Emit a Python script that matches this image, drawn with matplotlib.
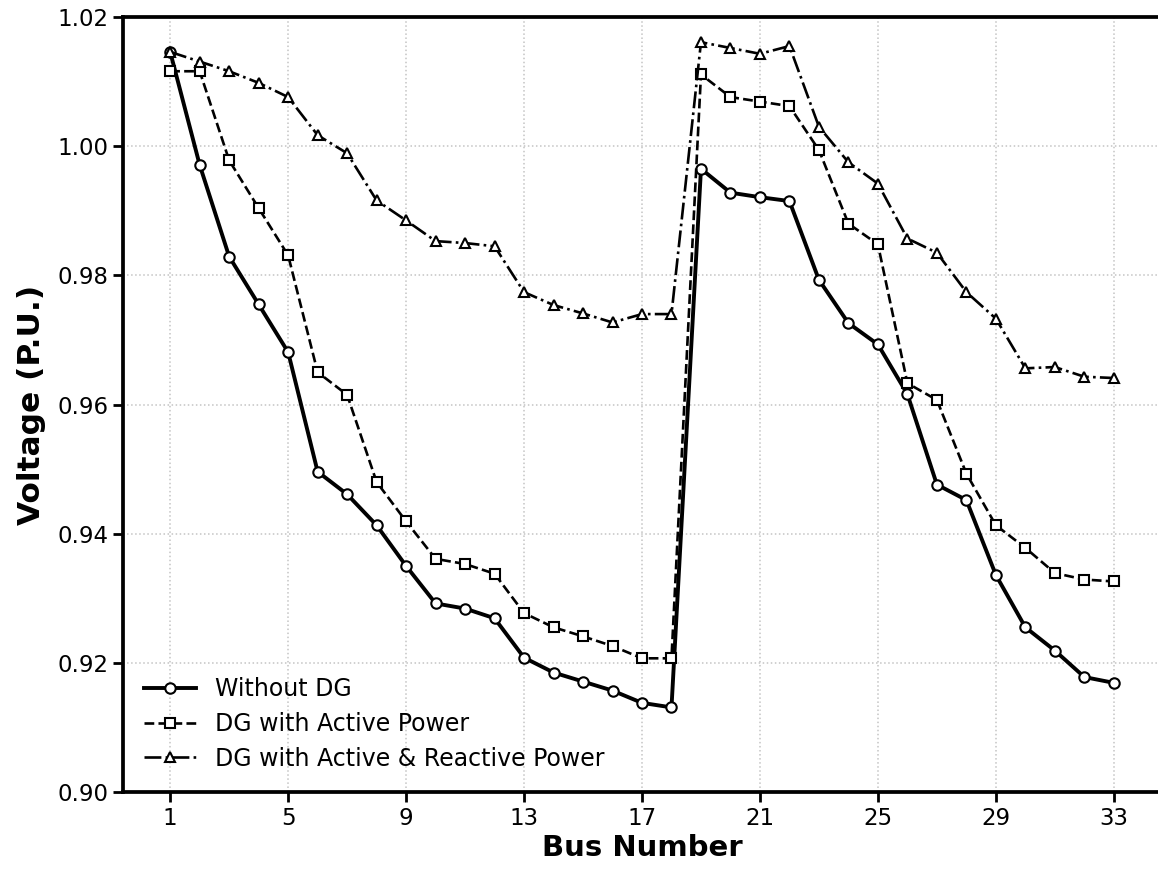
"""Voltage profile of the 33-bus feeder with and without DG."""

import matplotlib
matplotlib.use("Agg")
import matplotlib.pyplot as plt

buses = list(range(1, 34))

without_dg = [
    1.0146, 0.9971, 0.9829, 0.9755, 0.9681, 0.9496, 0.9461, 0.9413, 0.9350,
    0.9292, 0.9284, 0.9269, 0.9208, 0.9185, 0.9171, 0.9157, 0.9138, 0.9131,
    0.9965, 0.9928, 0.9921, 0.9915, 0.9793, 0.9726, 0.9693, 0.9616, 0.9476,
    0.9452, 0.9336, 0.9255, 0.9219, 0.9178, 0.9169,
]

dg_active = [
    1.0116, 1.0116, 0.9978, 0.9904, 0.9831, 0.9650, 0.9615, 0.9480, 0.9419,
    0.9361, 0.9353, 0.9338, 0.9277, 0.9255, 0.9241, 0.9226, 0.9207, 0.9207,
    1.0111, 1.0076, 1.0069, 1.0062, 0.9994, 0.9880, 0.9848, 0.9633, 0.9607,
    0.9493, 0.9413, 0.9378, 0.9339, 0.9329, 0.9326,
]

dg_active_reactive = [
    1.0146, 1.0131, 1.0116, 1.0098, 1.0076, 1.0017, 0.9989, 0.9916, 0.9885,
    0.9853, 0.9850, 0.9845, 0.9774, 0.9754, 0.9741, 0.9727, 0.9740, 0.9740,
    1.0161, 1.0152, 1.0143, 1.0155, 1.0030, 0.9975, 0.9942, 0.9857, 0.9835,
    0.9774, 0.9733, 0.9656, 0.9658, 0.9643, 0.9641,
]

xticks = [1, 5, 9, 13, 17, 21, 25, 29, 33]
yticks = [0.90, 0.92, 0.94, 0.96, 0.98, 1.00, 1.02]

fig = plt.figure(figsize=(11.58, 8.77), dpi=100)
ax = fig.add_axes([123 / 1158, 1 - 792 / 877, 1038 / 1158, 775 / 877])

marker_style = dict(markersize=7.5, markerfacecolor="white", markeredgecolor="black",
                    markeredgewidth=1.5, color="black")
ax.plot(buses, without_dg, "-", marker="o", linewidth=2.8, label="Without DG", **marker_style)
ax.plot(buses, dg_active, "--", marker="s", linewidth=1.9, label="DG with Active Power",
        **marker_style)
ax.plot(buses, dg_active_reactive, "-.", marker="^", linewidth=1.9,
        label="DG with Active & Reactive Power", **marker_style)

ax.set_xlim(-0.6, 34.6)
ax.set_ylim(0.90, 1.02)
ax.set_xticks(xticks)
ax.set_yticks(yticks)
ax.set_yticklabels([f"{v:.2f}" for v in yticks])
ax.tick_params(labelsize=16.5, width=2, length=7)
ax.grid(True, linestyle=":", color="#c4c4c4", linewidth=1.1)

for spine in ax.spines.values():
    spine.set_linewidth(2.7)

ax.set_xlabel("Bus Number", fontsize=21, fontweight="bold", labelpad=3)
ax.set_ylabel("Voltage (P.U.)", fontsize=22.5, fontweight="bold", labelpad=8)

ax.legend(loc="lower left", frameon=False, fontsize=17, handlelength=2.2,
          borderaxespad=0.5, labelspacing=0.45, handletextpad=0.8)

fig.savefig("out.png", dpi=100)
